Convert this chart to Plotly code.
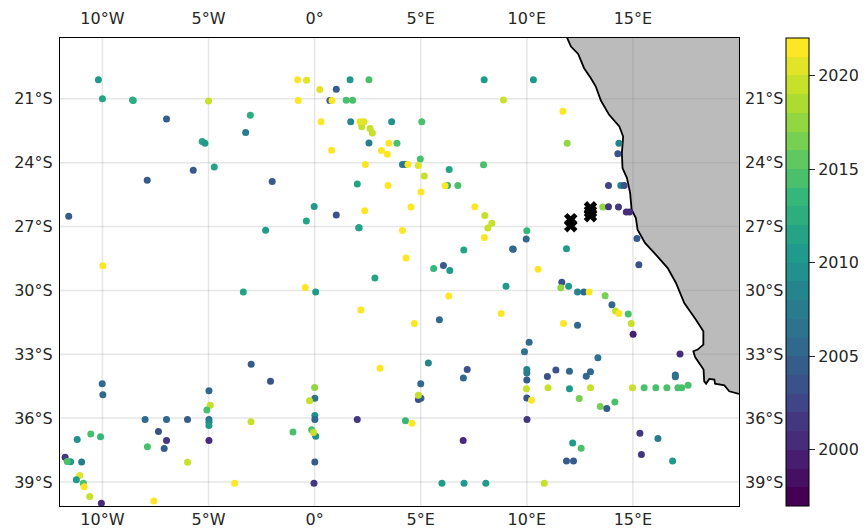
import plotly.graph_objects as go
from plotly.colors import sample_colorscale

lon_ticks = [-10, -5, 0, 5, 10, 15]
lon_labels = ["10°W", "5°W", "0°", "5°E", "10°E", "15°E"]
lat_ticks = [-21, -24, -27, -30, -33, -36, -39]
lat_labels = ["21°S", "24°S", "27°S", "30°S", "33°S", "36°S", "39°S"]
cbar_ticks = [2000, 2005, 2010, 2015, 2020]

coast_lon = [11.84, 12.08, 12.42, 12.7, 13.02, 13.25, 13.49, 13.88, 14.36, 14.54, 14.48, 14.51, 14.72, 14.87, 14.94,
             15.14, 15.22, 15.57, 16.08, 16.64, 17.03, 17.42, 17.97, 18.32, 18.32, 18.05, 17.85, 17.93, 18.33, 18.36,
             18.45, 18.6, 18.84, 18.87, 19.31, 19.54, 20.0]
coast_lat = [-18.0, -18.54, -18.89, -19.56, -20.03, -20.42, -21.08, -21.75, -22.3, -22.77, -23.55, -24.25, -24.72,
             -25.43, -26.21, -26.6, -27.15, -27.77, -28.32, -28.95, -29.65, -30.59, -31.38, -31.92, -32.55, -32.78,
             -32.86, -33.13, -33.72, -34.27, -34.38, -34.16, -34.19, -34.38, -34.46, -34.74, -34.86]

cross_lon = [12.07, 12.07, 13.0, 13.0, 13.0]
cross_lat = [-26.68, -26.96, -26.12, -26.3, -26.49]

obs = """
-10.19 -20.1 2010;-10.0 -21.0 2011;-8.55 -21.08 2011;-8.58 -21.05 2012;-6.98 -21.95 2004;-5.0 -21.1 2019;-3.03 -21.77 2012
-3.25 -22.58 2007;-5.3 -23.0 2011;-5.17 -23.08 2010;-5.72 -24.35 2004;-4.73 -24.2 2011;-7.89 -24.82 2004;-2.0 -24.88 2004
-11.59 -26.52 2004;-2.31 -27.17 2010;-9.98 -28.84 2021;-0.8 -20.1 2021;-0.77 -21.08 2021;-0.38 -20.12 2020;0.24 -20.56 2020
1.02 -20.55 2004;1.67 -20.1 2010;2.56 -20.1 2014;7.99 -20.1 2010;10.31 -20.1 2010;0.72 -21.08 2004;0.82 -21.08 2021
1.49 -21.06 2014;1.79 -21.06 2014;8.9 -21.05 2019;0.3 -22.08 2021;1.7 -22.08 2008;2.22 -22.31 2019;2.14 -22.07 2020
2.33 -22.08 2020;2.61 -22.39 2019;2.72 -22.6 2019;3.63 -22.08 2009;5.05 -22.08 2014;2.56 -23.07 2007;3.88 -23.08 2014
3.5 -23.08 2021;0.8 -23.41 2021;3.15 -23.43 2021;3.43 -23.6 2021;4.98 -23.83 2014;4.14 -24.08 2007;4.28 -24.08 2006
4.4 -24.08 2021;4.89 -24.13 2020;2.39 -24.08 2021;5.17 -24.62 2019;6.34 -24.32 2011;7.96 -24.1 2014;2.01 -25.0 2011
3.46 -25.07 2021;6.26 -25.07 2012;6.15 -25.08 2021;6.75 -25.07 2014;5.01 -25.38 2021;4.54 -26.08 2021;7.55 -26.07 2021
8.02 -26.48 2019;8.35 -26.85 2019;8.16 -27.07 2019;8.0 -27.51 2021;-0.02 -26.06 2010;1.02 -26.46 2003;-0.39 -26.74 2011
2.36 -26.26 2021;2.08 -27.06 2009;2.1 -27.05 2011;4.14 -27.18 2021;4.31 -28.48 2021;7.03 -28.1 2011;9.36 -28.07 2004
9.33 -28.05 2005;9.97 -27.59 2005;10.0 -27.2 2013;5.61 -28.97 2013;6.07 -28.83 2004;6.37 -29.06 2010;10.53 -29.0 2021
11.7 -21.58 2021;11.9 -23.08 2017;14.34 -23.08 2008;14.29 -23.58 2003;13.85 -25.07 2002;14.43 -25.07 2008;14.59 -25.07 2003
13.58 -26.08 2017;13.85 -26.07 2001;14.32 -26.08 2001;14.69 -26.32 2000;14.84 -26.32 2000;11.87 -28.04 2010;15.19 -27.56 2004
15.28 -28.8 2003;-3.36 -30.07 2011;-10.01 -34.39 2005;-9.98 -34.9 2005;-2.99 -33.47 2004;-2.08 -34.27 2003;-4.98 -34.72 2005
-4.92 -35.4 2019;-5.08 -35.62 2014;-7.99 -36.07 2005;-6.98 -36.07 2005;-5.99 -36.07 2004;-4.98 -36.07 2006;-4.98 -36.2 2008
-4.98 -36.35 2010;-4.98 -37.05 2000;-3.0 -36.17 2019;-1.02 -36.65 2014;-7.36 -36.63 2003;-6.98 -37.05 2001;-7.09 -37.43 2004
-7.88 -37.35 2014;-5.99 -38.07 2019;-3.77 -39.06 2021;-7.58 -39.89 2021;-10.05 -40.0 2000;-10.6 -39.68 2019;-10.9 -39.06 2014
-10.86 -39.23 2021;-11.07 -38.7 2020;-11.23 -38.9 2010;-10.98 -38.06 2007;-11.5 -38.05 2010;-11.76 -37.84 2001;-11.66 -38.04 2014
-11.19 -37.0 2009;-10.55 -36.75 2014;-10.09 -36.88 2013;-0.44 -29.86 2021;0.05 -30.07 2010;2.84 -29.42 2011;6.32 -30.26 2021
9.02 -29.81 2010;2.18 -30.92 2021;4.7 -31.55 2021;5.88 -31.38 2005;8.79 -31.09 2021;10.11 -32.44 2005;9.89 -32.88 2006
5.36 -33.41 2008;3.08 -33.66 2021;7.19 -33.72 2003;7.01 -34.11 2005;5.0 -34.38 2005;10.0 -33.72 2008;10.0 -33.88 2007
10.0 -34.21 2004;9.98 -34.62 2019;10.0 -35.05 2003;10.22 -35.16 2021;10.01 -36.07 2001;0.0 -34.56 2017;0.01 -35.07 2006
-0.24 -35.19 2019;5.01 -35.07 2005;4.89 -35.13 2003;4.89 -34.93 2019;0.01 -35.88 2009;0.01 -36.07 2005;2.01 -36.07 2001
4.28 -36.12 2013;4.59 -36.24 2021;0.05 -36.85 2009;-0.14 -36.55 2014;-0.05 -36.68 2019;7.0 -37.05 2000;0.01 -38.06 2004
-0.03 -39.06 2001;6.0 -39.06 2010;7.04 -39.06 2010;8.07 -39.06 2010;11.65 -29.62 2003;11.6 -29.87 2017;11.97 -29.81 2010
12.39 -30.07 2008;12.69 -30.07 2005;12.94 -30.07 2021;13.69 -30.25 2016;14.01 -30.67 2005;14.18 -30.97 2019;14.34 -31.08 2021
14.78 -31.11 2014;14.92 -31.56 2019;15.01 -32.06 1999;11.73 -31.55 2021;12.39 -31.64 2005;17.22 -32.99 2000;13.35 -33.17 2006
11.37 -33.74 2003;10.97 -34.05 2003;12.01 -33.8 2005;13.0 -33.82 2005;12.8 -34.03 2005;17.0 -33.98 2005;17.0 -34.06 2006
11.0 -34.57 2019;12.01 -34.62 2010;13.0 -34.57 2019;15.53 -34.57 2014;14.98 -34.57 2019;16.08 -34.57 2014;16.6 -34.57 2014
17.12 -34.57 2014;17.3 -34.57 2014;17.6 -34.46 2014;12.47 -35.08 2016;14.15 -35.24 2014;13.46 -35.46 2016;13.77 -35.55 2004
15.33 -36.71 2001;16.18 -36.96 2007;12.16 -37.17 2010;12.56 -37.42 2014;15.4 -37.71 2001;16.87 -38.02 2010;11.87 -38.02 2004
12.2 -38.02 2004;10.82 -39.06 2019
"""
rows = [r.split() for line in obs.strip().splitlines() for r in line.split(";")]
obs_lon = [float(r[0]) for r in rows]
obs_lat = [float(r[1]) for r in rows]
obs_year = [int(r[2]) for r in rows]

LON_RANGE = [-12, 20]
LAT_RANGE = [-40.13, -18.14]
YEAR_MIN, YEAR_MAX = 1997, 2022
INK = "#262626"
FONT = dict(family="DejaVu Sans", size=16, color=INK)

# Stepped viridis, one band per year
n = YEAR_MAX - YEAR_MIN
band_cols = sample_colorscale("Viridis", [i / (n - 1) for i in range(n)])
scale = []
for i, c in enumerate(band_cols):
    scale += [[i / n, c], [(i + 1) / n, c]]

grid_v_x, grid_v_y = [], []
for t in lon_ticks:
    grid_v_x += [t, t, None]
    grid_v_y += [LAT_RANGE[0], LAT_RANGE[1], None]
grid_h_x, grid_h_y = [], []
for t in lat_ticks:
    grid_h_x += [LON_RANGE[0], LON_RANGE[1], None]
    grid_h_y += [t, t, None]

fig = go.Figure()
# Land
fig.add_trace(go.Scatter(
    x=coast_lon + [LON_RANGE[1], LON_RANGE[1]],
    y=coast_lat + [coast_lat[0], coast_lat[0]],
    mode="lines", fill="toself", fillcolor="#bbbbbb", line=dict(width=0),
    hoverinfo="skip", showlegend=False))
# Grid over the land, under the points
grid_line = dict(color="rgba(128,128,128,0.2)", width=1.5)
fig.add_trace(go.Scatter(x=grid_v_x, y=grid_v_y, mode="lines", line=grid_line, hoverinfo="skip", showlegend=False))
fig.add_trace(go.Scatter(x=grid_h_x, y=grid_h_y, mode="lines", line=grid_line, hoverinfo="skip", showlegend=False))
# Coast
fig.add_trace(go.Scatter(x=coast_lon, y=coast_lat, mode="lines", line=dict(color="black", width=1.8),
                         hoverinfo="skip", showlegend=False))
# Observations
fig.add_trace(go.Scatter(
    x=obs_lon, y=obs_lat, mode="markers", showlegend=False,
    marker=dict(
        size=7, color=obs_year, colorscale=scale, cmin=YEAR_MIN, cmax=YEAR_MAX,
        line=dict(width=0),
        colorbar=dict(
            x=(778 - 52) / 679, xanchor="left", xref="paper", xpad=0, ypad=0, y=0.5, yanchor="middle",
            len=1, lenmode="fraction", thickness=23, thicknessmode="pixels",
            outlinecolor="black", outlinewidth=1, tickmode="array", tickvals=cbar_ticks,
            ticks="outside", ticklen=6, tickwidth=1, tickcolor=INK, tickfont=FONT,
        ),
    )))
# Crosses
fig.add_trace(go.Scatter(x=cross_lon, y=cross_lat, mode="markers", showlegend=False,
                         marker=dict(symbol="x", size=12, color="black", line=dict(width=0))))
# Invisible trace that brings in the top and right label axes
fig.add_trace(go.Scatter(x=[LON_RANGE[0]], y=[LAT_RANGE[0]], xaxis="x2", yaxis="y2", mode="markers",
                         marker=dict(opacity=0), hoverinfo="skip", showlegend=False))

# The page body has an 8px margin, so the figure is sized and placed to land on the reference pixels.
fig.update_layout(
    width=870, height=529, autosize=False,
    margin=dict(l=52, r=139, t=30, b=31, pad=0),
    paper_bgcolor="white", plot_bgcolor="white", font=FONT,
    xaxis=dict(range=LON_RANGE, tickmode="array", tickvals=lon_ticks, ticktext=lon_labels, automargin=False,
               showgrid=False, zeroline=False, ticks="", showline=True, mirror=True,
               linecolor="black", linewidth=1.3, tickfont=FONT, ticklabelstandoff=-1),
    yaxis=dict(range=LAT_RANGE, tickmode="array", tickvals=lat_ticks, ticktext=lat_labels, automargin=False,
               showgrid=False, zeroline=False, ticks="", showline=True, mirror=True,
               linecolor="black", linewidth=1.3, tickfont=FONT, ticklabelstandoff=3),
    xaxis2=dict(range=LON_RANGE, overlaying="x", side="top", anchor="y", tickmode="array", automargin=False,
                tickvals=lon_ticks, ticktext=lon_labels, showgrid=False, zeroline=False, ticks="",
                tickfont=FONT, ticklabelstandoff=10),
    yaxis2=dict(range=LAT_RANGE, overlaying="y", side="right", anchor="x", tickmode="array", automargin=False,
                tickvals=lat_ticks, ticktext=lat_labels, showgrid=False, zeroline=False, ticks="",
                tickfont=FONT, ticklabelstandoff=5),
)
fig.write_html("out.html", config={"displayModeBar": False})
